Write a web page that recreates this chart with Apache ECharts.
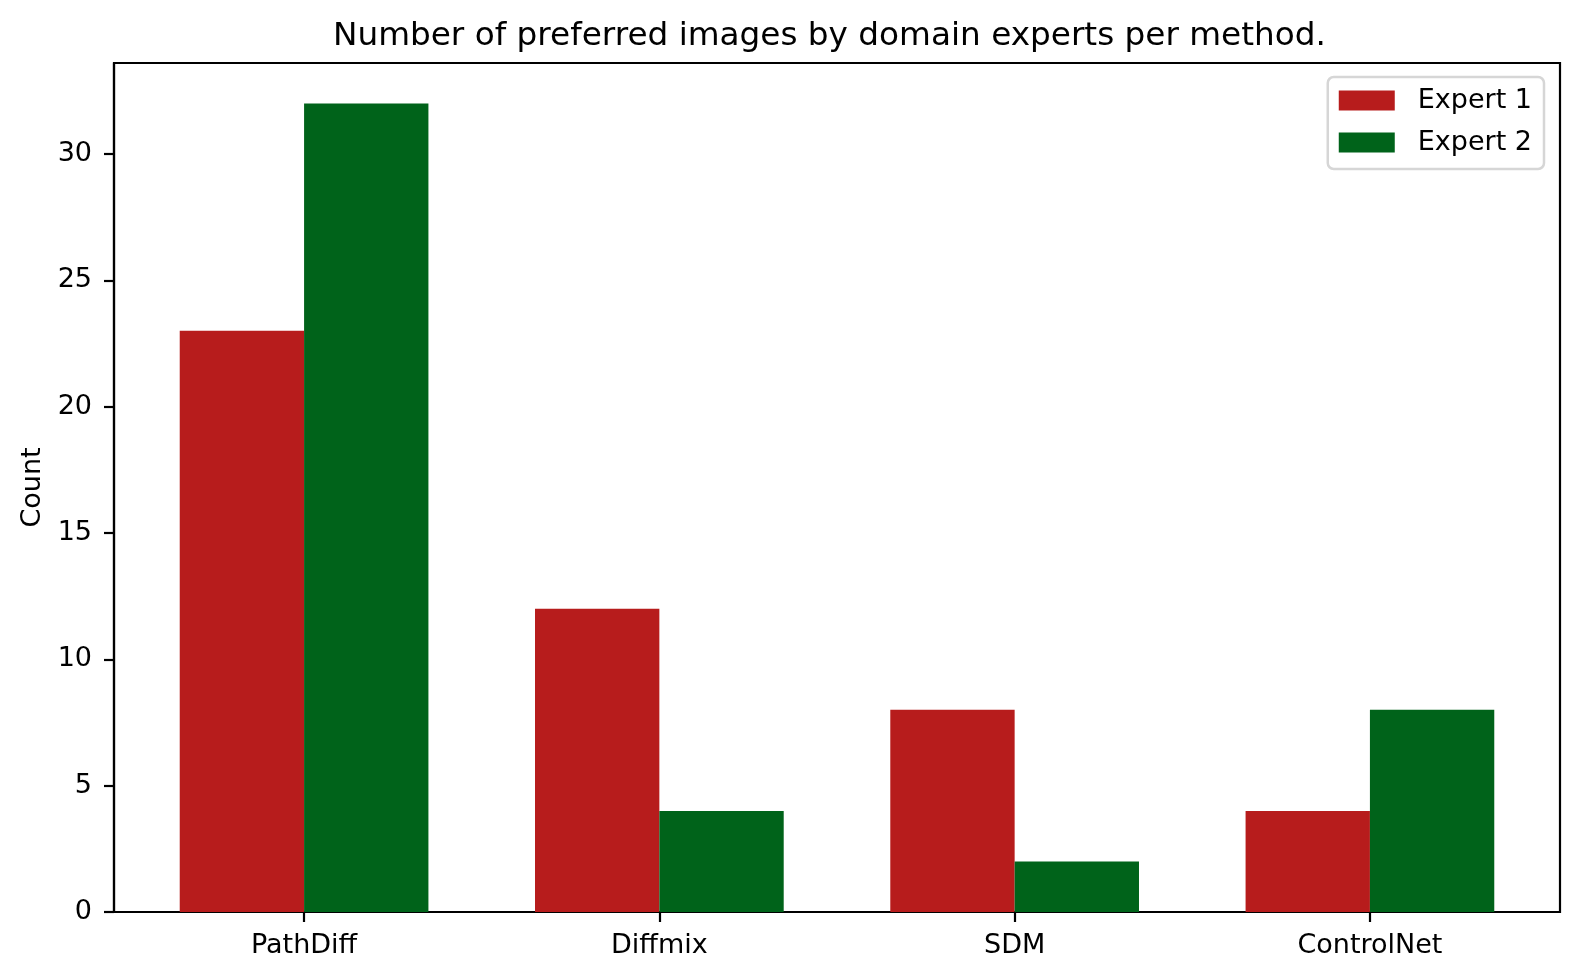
<!DOCTYPE html>
<html>
<head>
<meta charset="utf-8">
<title>Preferred images per method</title>
<script src="https://cdn.jsdelivr.net/npm/echarts@6/dist/echarts.min.js"></script>
<style>
  html, body { margin: 0; padding: 0; background: #fff; }
  #chart { width: 1580px; height: 980px; }
</style>
</head>
<body>
<div id="chart"></div>
<script>
const categories = ['PathDiff', 'Diffmix', 'SDM', 'ControlNet']
const expert1 = [23, 12, 8, 4]
const expert2 = [32, 4, 2, 8]
const yTicks = [0, 5, 10, 15, 20, 25, 30]
const xTicks = categories.map((c, i) => i)

const barW = 0.35
const font = 'DejaVu Sans'

// each bar spans [i + offset, i + offset + barW] on the x value axis
function barSeries(name, values, offset, color) {
  return {
    name: name,
    type: 'custom',
    itemStyle: { color: color },
    data: values.map((v, i) => [i, v]),
    renderItem: (params, api) => {
      const x = api.value(0)
      const v = api.value(1)
      const p0 = api.coord([x + offset, 0])
      const p1 = api.coord([x + offset + barW, v])
      return {
        type: 'rect',
        shape: { x: p0[0], y: p1[1], width: p1[0] - p0[0], height: p0[1] - p1[1] },
        style: api.style()
      }
    }
  }
}

const chart = echarts.init(document.getElementById('chart'))
chart.setOption({
  animation: false,
  textStyle: { fontFamily: font },
  title: {
    text: 'Number of preferred images by domain experts per method.',
    left: 328,
    top: 15,
    textStyle: { fontFamily: font, fontSize: 32.7, fontWeight: 'normal', color: '#000' }
  },
  legend: {
    right: 36,
    top: 77,
    orient: 'vertical',
    icon: 'rect',
    itemWidth: 56,
    itemHeight: 20,
    itemGap: 15,
    padding: [10, 12, 13, 11],
    borderColor: '#d6d6d6',
    borderWidth: 2.5,
    borderRadius: 6,
    textStyle: { fontFamily: font, fontSize: 27, color: '#000', lineHeight: 20, padding: [0, 0, 0, 18] }
  },
  grid: {
    left: 114,
    right: 20,
    top: 63,
    bottom: 68,
    show: true,
    borderColor: '#000',
    borderWidth: 2.2
  },
  xAxis: {
    type: 'value',
    min: -0.535,
    max: 3.535,
    splitLine: { show: false },
    axisLine: { show: true, onZero: false, lineStyle: { color: '#000', width: 2.2 } },
    axisTick: { show: true, customValues: xTicks, length: 10, lineStyle: { color: '#000', width: 2.2 } },
    axisLabel: {
      customValues: xTicks,
      formatter: v => categories[v],
      margin: 20,
      fontFamily: font,
      fontSize: 27,
      color: '#000'
    }
  },
  yAxis: {
    type: 'value',
    min: 0,
    max: 33.6,
    name: 'Count',
    nameLocation: 'middle',
    nameGap: 68,
    nameTextStyle: { fontFamily: font, fontSize: 27, color: '#000' },
    splitLine: { show: false },
    axisLine: { show: true, onZero: false, lineStyle: { color: '#000', width: 2.2 } },
    axisTick: { show: true, customValues: yTicks, length: 10, lineStyle: { color: '#000', width: 2.2 } },
    axisLabel: {
      customValues: yTicks,
      margin: 22,
      fontFamily: font,
      fontSize: 27,
      color: '#000'
    }
  },
  series: [
    barSeries('Expert 1', expert1, -barW, '#b71c1c'),
    barSeries('Expert 2', expert2, 0, '#00631a')
  ]
})
</script>
</body>
</html>
